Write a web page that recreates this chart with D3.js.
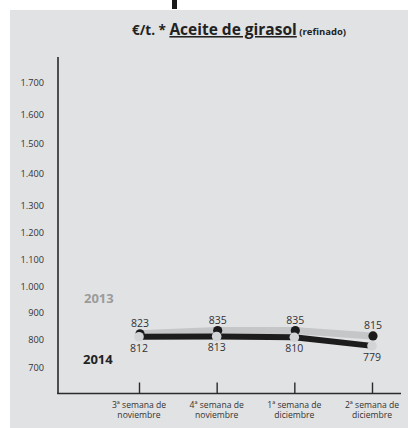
<!DOCTYPE html>
<html>
<head>
<meta charset="utf-8">
<script src="https://cdn.jsdelivr.net/npm/d3@7"></script>
<style>
  html, body { margin: 0; padding: 0; background: #fff; }
  svg { display: block; font-family: "Open Sans", sans-serif; }
</style>
</head>
<body>
<svg id="chart" width="408" height="428"></svg>
<script>
const weeks = [
  ["3ª semana de", "noviembre"],
  ["4ª semana de", "noviembre"],
  ["1ª semana de", "diciembre"],
  ["2ª semana de", "diciembre"]
];
const values2013 = [823, 835, 835, 815];
const values2014 = [812, 813, 810, 779];
const yTicks = [700, 800, 900, 1000, 1100, 1200, 1300, 1400, 1500, 1600, 1700];
// the printed axis is not evenly spaced; where each tick sits on the page
const yTickPos = [368, 340, 313, 287, 260, 233, 206, 174, 144, 115, 83];

const width = 408, height = 428;
const svg = d3.select("#chart");

// grey panel
svg.append("rect").attr("x", 10).attr("y", 10).attr("width", width - 10).attr("height", height - 10)
  .attr("fill", "#e1e2e4");
// cut-off letter of the page heading above
svg.append("rect").attr("x", 172).attr("y", 0).attr("width", 5).attr("height", 9).attr("fill", "#1a1a1a");

const es = d3.formatLocale({ decimal: ",", thousands: ".", grouping: [3], currency: ["", "€"] });
const fmt = es.format(",d");

const x = d3.scalePoint().domain(d3.range(weeks.length)).range([139, 372]);
const y = d3.scaleLinear().domain(yTicks).range(yTickPos);

// title
const title = svg.append("text").attr("x", 132).attr("y", 35).attr("fill", "#222").attr("font-weight", "bold");
title.append("tspan").attr("font-size", 13.5).text("€/t. * ");
title.append("tspan").attr("font-size", 15.5).attr("text-decoration", "underline").text("Aceite de girasol");
title.append("tspan").attr("font-size", 9.5).text(" (refinado)");

// axes
const axisColor = "#2a2a2a";
svg.append("line").attr("x1", 58).attr("x2", 58).attr("y1", 57).attr("y2", 394)
  .attr("stroke", axisColor).attr("stroke-width", 1.6);
svg.append("line").attr("x1", 57.2).attr("x2", 401).attr("y1", 393.5).attr("y2", 393.5)
  .attr("stroke", axisColor).attr("stroke-width", 1.6);

const yAxis = svg.append("g").attr("transform", "translate(44,0)")
  .call(d3.axisLeft(y).tickValues(yTicks).tickSize(0).tickPadding(0).tickFormat(fmt));
yAxis.select(".domain").remove();
yAxis.selectAll("text").attr("font-size", 9.2).attr("fill", "#333").attr("font-family", "Open Sans, sans-serif");

const xAxis = svg.append("g").attr("transform", "translate(0,393.5)")
  .call(d3.axisTop(x).tickSize(11).tickFormat(""));
xAxis.select(".domain").remove();
xAxis.selectAll("text").remove();
xAxis.selectAll("line").attr("stroke", axisColor).attr("stroke-width", 1.4);

// two-line week labels, each line its own text
[0, 1].forEach(k => {
  svg.append("g").selectAll("text").data(weeks).join("text")
    .attr("x", (d, i) => x(i)).attr("y", 407.5 + k * 10.5)
    .attr("text-anchor", "middle").attr("font-size", 8.6).attr("fill", "#333")
    .text(d => d[k]);
});

// lines
const line = d3.line().x((d, i) => x(i)).y(d => y(d));
svg.append("path").datum(values2013).attr("d", line).attr("fill", "none")
  .attr("stroke", "#c5c6c8").attr("stroke-width", 7);
svg.append("path").datum(values2014).attr("d", line).attr("fill", "none")
  .attr("stroke", "#1c1c1c").attr("stroke-width", 6);

// points
svg.append("g").selectAll("circle").data(values2013).join("circle")
  .attr("cx", (d, i) => x(i) + 1).attr("cy", d => y(d)).attr("r", 4.6).attr("fill", "#1a1a1a");
svg.append("g").selectAll("circle").data(values2014).join("circle")
  .attr("cx", (d, i) => x(i)).attr("cy", d => y(d)).attr("r", 4.8).attr("fill", "#d3d4d6");

// value labels
svg.append("g").selectAll("text").data(values2013).join("text")
  .attr("x", (d, i) => x(i) + 1).attr("y", d => y(d) - 7)
  .attr("text-anchor", "middle").attr("font-size", 10.5).attr("fill", "#333").text(fmt);
svg.append("g").selectAll("text").data(values2014).join("text")
  .attr("x", (d, i) => x(i)).attr("y", d => y(d) + 15)
  .attr("text-anchor", "middle").attr("font-size", 10.5).attr("fill", "#333").text(fmt);

// series labels
svg.append("text").attr("x", 84).attr("y", 303).attr("font-size", 13).attr("font-weight", "bold")
  .attr("fill", "#9b9b9b").text("2013");
svg.append("text").attr("x", 83).attr("y", 364).attr("font-size", 13).attr("font-weight", "bold")
  .attr("fill", "#222").text("2014");
</script>
</body>
</html>
